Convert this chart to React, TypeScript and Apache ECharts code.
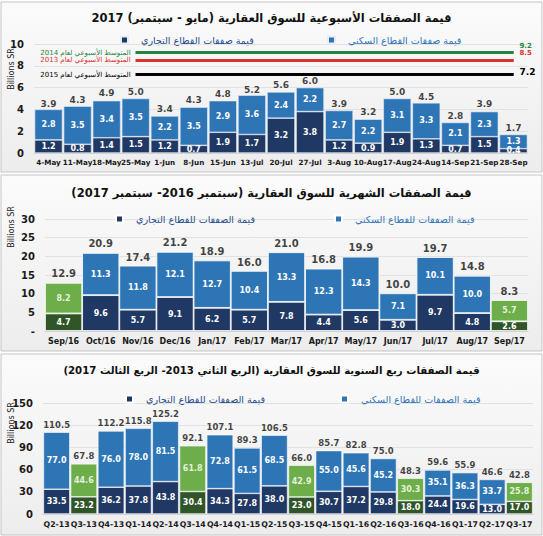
import React, { useEffect, useRef } from "react";
import * as echarts from "echarts";

// ---------- Panel 1: weekly ----------
const weeks = ["4-May", "11-May", "18-May", "25-May", "1-Jun", "8-Jun", "15-Jun", "13-Jul", "20-Jul", "27-Jul", "3-Aug", "10-Aug", "17-Aug", "24-Aug", "14-Sep", "21-Sep", "28-Sep"];
const weekCom = [1.2, 0.8, 1.4, 1.5, 1.2, 0.7, 1.9, 1.7, 3.2, 3.8, 1.2, 0.9, 1.9, 1.3, 0.7, 1.5, 0.4];
const weekRes = [2.8, 3.5, 3.4, 3.5, 2.2, 3.5, 2.9, 3.6, 2.4, 2.2, 2.7, 2.2, 3.1, 3.3, 2.1, 2.3, 1.3];
const weekTot = [3.9, 4.3, 4.9, 5.0, 3.4, 4.3, 4.8, 5.2, 5.6, 6.0, 3.9, 3.2, 5.0, 4.5, 2.8, 3.9, 1.7];
const avgYears = ["2014", "2013", "2015"];
const avgValues = [9.2, 8.5, 7.2];
const avgFrom = "25-May";
const avgTo = "28-Sep";
const weekTicks = [0, 2, 4, 6, 8, 10];

// ---------- Panel 2: monthly ----------
const months = ["Sep/16", "Oct/16", "Nov/16", "Dec/16", "Jan/17", "Feb/17", "Mar/17", "Apr/17", "May/17", "Jun/17", "Jul/17", "Aug/17", "Sep/17"];
const monthCom = [4.7, 9.6, 5.7, 9.1, 6.2, 5.7, 7.8, 4.4, 5.6, 3.0, 9.7, 4.8, 2.6];
const monthRes = [8.2, 11.3, 11.8, 12.1, 12.7, 10.4, 13.3, 12.3, 14.3, 7.1, 10.1, 10.0, 5.7];
const monthTot = [12.9, 20.9, 17.4, 21.2, 18.9, 16.0, 21.0, 16.8, 19.9, 10.0, 19.7, 14.8, 8.3];
const monthGreen = ["Sep/16", "Sep/17"];
const monthTicks = [0, 5, 10, 15, 20, 25, 30];

// ---------- Panel 3: quarterly ----------
const quarters = ["Q2-13", "Q3-13", "Q4-13", "Q1-14", "Q2-14", "Q3-14", "Q4-14", "Q1-15", "Q2-15", "Q3-15", "Q4-15", "Q1-16", "Q2-16", "Q3-16", "Q4-16", "Q1-17", "Q2-17", "Q3-17"];
const quarterCom = [33.5, 23.2, 36.2, 37.8, 43.8, 30.4, 34.3, 27.8, 38.0, 23.0, 30.7, 37.2, 29.8, 18.0, 24.4, 19.6, 13.0, 17.0];
const quarterRes = [77.0, 44.6, 76.0, 78.0, 81.5, 61.8, 72.8, 61.5, 68.5, 42.9, 55.0, 45.6, 45.2, 30.3, 35.1, 36.3, 33.7, 25.8];
const quarterTot = [110.5, 67.8, 112.2, 115.8, 125.2, 92.1, 107.1, 89.3, 106.5, 66.0, 85.7, 82.8, 75.0, 48.3, 59.6, 55.9, 46.6, 42.8];
const quarterGreen = ["Q3-13", "Q3-14", "Q3-15", "Q3-16", "Q3-17"];
const quarterTicks = [0, 30, 60, 90, 120, 150];

// ---------- Texts ----------
const titles = [
  "قيمة الصفقات الأسبوعية للسوق العقارية (مايو - سبتمبر) 2017",
  "قيمة الصفقات الشهرية للسوق العقارية (سبتمبر 2016- سبتمبر 2017)",
  "قيمة الصفقات ربع السنوية للسوق العقارية (الربع الثاني 2013- الربع الثالث 2017)",
];
const weekComName = "قيمة صفقات القطاع التجاري";
const weekResName = "قيمة صفقات القطاع السكني";
const comName = "قيمة الصفقات للقطاع التجاري";
const resName = "قيمة الصفقات للقطاع السكني";
const avgLabel = "المتوسط الأسبوعي لعام ";
const unitName = "Billions SR";

const NAVY = "#1F3864";
const BLUE = "#2E75B6";
const DKGREEN = "#2F5528";
const LTGREEN = "#6DAE4A";
const AVG_COLORS = ["#23853F", "#D8322A", "#000000"];
const FONT = "'DejaVu Sans', Verdana, sans-serif";

export default function App() {
  const ref = useRef<HTMLDivElement>(null);

  useEffect(() => {
    if (!ref.current) return;
    const chart = echarts.init(ref.current, null, { renderer: "svg" });

    const grids = [
      { left: 34, top: 44, width: 494, height: 109 },
      { left: 45, top: 219, width: 483, height: 112 },
      { left: 43, top: 403, width: 490, height: 111 },
    ];
    const cats = [weeks, months, quarters];
    const ticks = [weekTicks, monthTicks, quarterTicks];
    const catFont = [7.2, 8, 7.8];

    const xAxes = cats.map((c, i) => ({
      type: "category",
      gridIndex: i,
      data: c,
      axisLine: { show: true, lineStyle: { color: "#d0d0d0" } },
      axisTick: { show: false },
      axisLabel: {
        interval: 0,
        margin: 6,
        fontSize: catFont[i],
        fontWeight: "bold",
        color: "#1a1a1a",
        fontFamily: FONT,
      },
    }));

    const yAxes = ticks.map((t, i) => ({
      type: "value",
      gridIndex: i,
      min: t[0],
      max: t[t.length - 1],
      interval: t[1] - t[0],
      axisLine: { show: false },
      axisTick: { show: false },
      splitLine: { show: true, lineStyle: { color: "#e2e2e2", width: 1 } },
      axisLabel: {
        margin: 10,
        fontSize: 10,
        fontWeight: "bold",
        color: "#1a1a1a",
        fontFamily: FONT,
        formatter: (v: number) => (i === 1 && v === 0 ? "-" : String(v)),
      },
    }));

    const insideLabel = (size: number) => ({
      show: true,
      position: "inside",
      fontSize: size,
      fontWeight: "bold",
      color: "#ffffff",
      fontFamily: FONT,
      formatter: (p: any) => Number(p.value).toFixed(1),
    });

    const coloredData = (vals: number[], c: string[], green: string[], normal: string, greenColor: string, greenText?: string) =>
      vals.map((v, k) =>
        green.includes(c[k])
          ? { value: v, itemStyle: { color: greenColor }, label: greenText ? { color: greenText } : undefined }
          : { value: v, itemStyle: { color: normal } }
      );

    const totalSeries = (i: number, tot: number[], size: number, dist: number) => ({
      type: "scatter",
      xAxisIndex: i,
      yAxisIndex: i,
      data: tot,
      symbolSize: 0,
      silent: true,
      z: 5,
      label: {
        show: true,
        position: "top",
        distance: dist,
        fontSize: size,
        fontWeight: "bold",
        color: "#111",
        fontFamily: FONT,
        formatter: (p: any) => Number(p.value).toFixed(1),
      },
    });

    const markLineData: any[] = [];
    avgValues.forEach((v, k) => {
      const color = AVG_COLORS[k];
      const lineStyle = { color, width: 3, type: "solid" };
      markLineData.push([
        {
          coord: [avgFrom, v],
          lineStyle,
          label: {
            show: true,
            position: "start",
            distance: 5,
            formatter: avgLabel + avgYears[k],
            fontSize: 7,
            color,
            fontFamily: FONT,
          },
        },
        { coord: [avgTo, v] },
      ]);
      markLineData.push([
        {
          coord: [avgFrom, v],
          lineStyle,
          label: {
            show: true,
            position: "end",
            distance: 6,
            formatter: v.toFixed(1),
            fontSize: k === 2 ? 9 : 7,
            fontWeight: "bold",
            color,
            fontFamily: FONT,
            offset: [0, k === 2 ? -3 : -7],
          },
        },
        { coord: [avgTo, v] },
      ]);
    });

    const series: any[] = [
      // Panel 1
      {
        name: weekComName,
        type: "bar",
        stack: "w",
        xAxisIndex: 0,
        yAxisIndex: 0,
        data: weekCom,
        barCategoryGap: "4%",
        itemStyle: { color: NAVY, borderColor: "#e8eef6", borderWidth: 0.6 },
        label: insideLabel(8),
        markLine: {
          silent: true,
          symbol: "none",
          animation: false,
          data: markLineData,
        },
      },
      {
        name: weekResName,
        type: "bar",
        stack: "w",
        xAxisIndex: 0,
        yAxisIndex: 0,
        data: weekRes,
        barCategoryGap: "4%",
        itemStyle: { color: BLUE, borderColor: "#e8eef6", borderWidth: 0.6 },
        label: insideLabel(8),
      },
      totalSeries(0, weekTot, 9, 2),
      // Panel 2
      {
        name: comName,
        type: "bar",
        stack: "m",
        xAxisIndex: 1,
        yAxisIndex: 1,
        data: coloredData(monthCom, months, monthGreen, NAVY, DKGREEN),
        barCategoryGap: "0%",
        itemStyle: { color: NAVY, borderColor: "#ffffff", borderWidth: 0.8 },
        label: insideLabel(8),
      },
      {
        name: resName,
        type: "bar",
        stack: "m",
        xAxisIndex: 1,
        yAxisIndex: 1,
        data: coloredData(monthRes, months, monthGreen, BLUE, LTGREEN, "#e4f1dc"),
        barCategoryGap: "0%",
        itemStyle: { color: BLUE, borderColor: "#ffffff", borderWidth: 0.8 },
        label: insideLabel(8),
      },
      totalSeries(1, monthTot, 10, 4),
      // Panel 3
      {
        name: comName,
        type: "bar",
        stack: "q",
        xAxisIndex: 2,
        yAxisIndex: 2,
        data: coloredData(quarterCom, quarters, quarterGreen, NAVY, DKGREEN),
        barCategoryGap: "3%",
        itemStyle: { color: NAVY, borderColor: "#ffffff", borderWidth: 0.6 },
        label: insideLabel(8),
      },
      {
        name: resName,
        type: "bar",
        stack: "q",
        xAxisIndex: 2,
        yAxisIndex: 2,
        data: coloredData(quarterRes, quarters, quarterGreen, BLUE, LTGREEN, "#e4f1dc"),
        barCategoryGap: "3%",
        itemStyle: { color: BLUE, borderColor: "#ffffff", borderWidth: 0.6 },
        label: insideLabel(8),
      },
      totalSeries(2, quarterTot, 8.5, 3),
    ];

    const legendItem = (name: string, left: number, top: number, color: string) => ({
      data: [name],
      left,
      top,
      icon: "rect",
      itemWidth: 7,
      itemHeight: 7,
      selectedMode: false,
      textStyle: {
        fontSize: 9.5,
        color,
        fontFamily: FONT,
        padding: [0, 0, 0, 8],
      },
    });

    const panelBoxes = [
      [1, 2, 541, 170],
      [1, 175, 541, 176],
      [1, 354, 541, 181],
    ];

    const titleSizes = [11.5, 11.5, 10.2];

    const option: any = {
      animation: false,
      backgroundColor: "#ffffff",
      title: titles.map((t, i) => ({
        text: t,
        left: "center",
        top: [7, 182, 360][i],
        textStyle: {
          fontSize: titleSizes[i],
          fontWeight: "bold",
          color: "#111",
          fontFamily: FONT,
        },
      })),
      legend: [
        legendItem(weekComName, 115, 30, "#1F4E8C"),
        legendItem(weekResName, 322, 30, "#2E75B6"),
        legendItem(comName, 110, 209, "#1F4E8C"),
        legendItem(resName, 329, 209, "#2E75B6"),
        legendItem(comName, 120, 389, "#1F4E8C"),
        legendItem(resName, 335, 389, "#2E75B6"),
      ],
      grid: grids.map((g) => ({ ...g, containLabel: false })),
      xAxis: xAxes,
      yAxis: yAxes,
      series,
      graphic: {
        elements: [
          ...panelBoxes.map(([x, y, w, h]) => ({
            type: "rect",
            z: -100,
            silent: true,
            shape: { x, y, width: w, height: h },
            style: {
              fill: new echarts.graphic.LinearGradient(0, 0, 0, 1, [
                { offset: 0, color: "#fbfbfb" },
                { offset: 1, color: "#ededed" },
              ]),
              stroke: "#c4c4c4",
              lineWidth: 1,
            },
          })),
          ...[69, 227, 423].map((cy) => ({
            type: "text",
            silent: true,
            x: 11,
            y: cy,
            rotation: Math.PI / 2,
            style: {
              text: unitName,
              fontSize: 8,
              fill: "#222",
              fontFamily: FONT,
              align: "center",
              verticalAlign: "middle",
            },
          })),
        ],
      },
    };

    chart.setOption(option);
    return () => chart.dispose();
  }, []);

  return (
    <div
      ref={ref}
      style={{ position: "fixed", left: 0, top: 0, width: 543, height: 536 }}
    />
  );
}
